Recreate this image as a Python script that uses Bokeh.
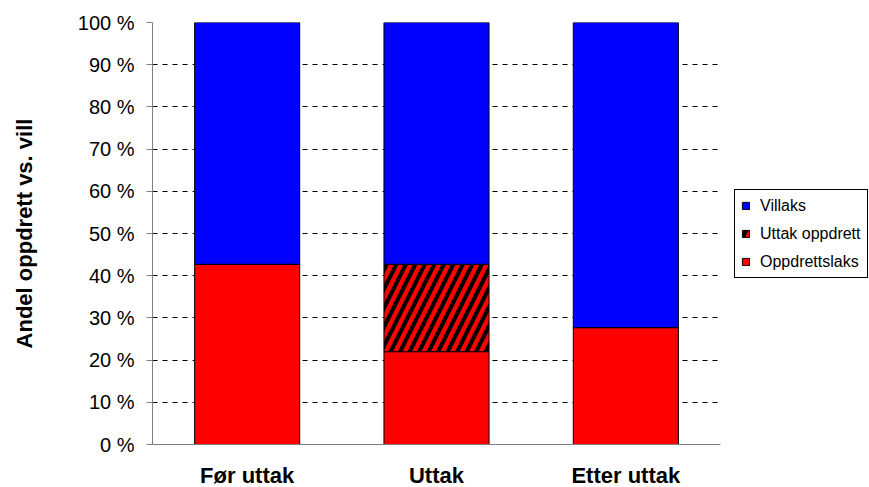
from bokeh.plotting import figure
from bokeh.models import (FactorRange, Range1d, Legend, LegendItem, FixedTicker,
                          PrintfTickFormatter, ColumnDataSource)
from bokeh.embed import file_html
from bokeh.resources import INLINE
import numpy as np

# Share of farmed vs. wild salmon, before / during / after removal
categories = ["Før uttak", "Uttak", "Etter uttak"]
oppdrettslaks = [42.7, 22.0, 27.7]      # farmed salmon (%)
uttak_oppdrett = [0.0, 20.7, 0.0]       # farmed salmon removed (%)
villaks = [57.3, 57.3, 72.3]            # wild salmon (%)
y_ticks = [0, 10, 20, 30, 40, 50, 60, 70, 80, 90, 100]

FONT = "Liberation Sans"

b0 = np.zeros(3)
t0 = b0 + np.array(oppdrettslaks)
t1 = t0 + np.array(uttak_oppdrett)
t2 = t1 + np.array(villaks)

src = ColumnDataSource(dict(x=categories, b0=b0, t0=t0, t1=t1, t2=t2))

p = figure(x_range=FactorRange(*categories, range_padding=0),
           y_range=Range1d(0, 100),
           frame_width=568, frame_height=422,
           output_backend="svg", toolbar_location=None,
           min_border_left=152, min_border_right=0,
           min_border_top=22, min_border_bottom=43)

p.outline_line_color = None
p.xgrid.grid_line_color = None
p.ygrid.grid_line_color = "#000000"
p.ygrid.grid_line_dash = "5 5"
p.ygrid.grid_line_width = 1

bar_w = 0.555
r_red = p.vbar(x="x", bottom="b0", top="t0", width=bar_w, source=src,
               fill_color="#ff0000", line_color="#000000", line_width=1)
r_hatch = p.vbar(x="x", bottom="t0", top="t1", width=bar_w, source=src,
                 fill_color="#ff0000", line_color="#000000", line_width=1,
                 hatch_pattern="/", hatch_color="#000000",
                 hatch_scale=19, hatch_weight=4)
r_blue = p.vbar(x="x", bottom="t1", top="t2", width=bar_w, source=src,
                fill_color="#0000ff", line_color="#000000", line_width=1)

# y axis
p.yaxis.ticker = FixedTicker(ticks=y_ticks, minor_ticks=[])
p.yaxis.formatter = PrintfTickFormatter(format="%d %%")
p.yaxis.axis_label = "Andel oppdrett vs. vill"
p.yaxis.axis_label_text_font = FONT
p.yaxis.axis_label_text_font_style = "bold"
p.yaxis.axis_label_text_font_size = "22px"
p.yaxis.axis_label_text_color = "#000000"
p.yaxis.axis_label_standoff = 38
p.yaxis.major_label_text_font = FONT
p.yaxis.major_label_text_font_size = "20px"
p.yaxis.major_label_text_color = "#000000"
p.yaxis.major_label_standoff = 12
p.yaxis.major_tick_in = 0
p.yaxis.major_tick_out = 6
p.yaxis.minor_tick_line_color = None
p.yaxis.axis_line_color = "#808080"
p.yaxis.major_tick_line_color = "#808080"

# x axis
p.xaxis.major_label_text_font = FONT
p.xaxis.major_label_text_font_style = "bold"
p.xaxis.major_label_text_font_size = "22px"
p.xaxis.major_label_text_color = "#000000"
p.xaxis.major_label_standoff = 18
p.xaxis.major_tick_line_color = None
p.xaxis.major_tick_out = 0
p.xaxis.major_tick_in = 0
p.xaxis.axis_line_color = "#808080"

legend = Legend(items=[
    LegendItem(label="Villaks", renderers=[r_blue]),
    LegendItem(label="Uttak oppdrett", renderers=[r_hatch]),
    LegendItem(label="Oppdrettslaks", renderers=[r_red]),
], location=(14, 166))
legend.label_text_font = FONT
legend.label_text_font_size = "16px"
legend.label_text_color = "#000000"
legend.glyph_width = 9
legend.glyph_height = 9
legend.label_standoff = 10
legend.label_height = 19
legend.spacing = 9
legend.padding = 6
legend.margin = 1
legend.border_line_color = "#000000"
legend.border_line_width = 1
legend.border_line_alpha = 1
legend.background_fill_alpha = 1
p.add_layout(legend, "right")

open("out.html", "w").write(file_html(p, INLINE))
